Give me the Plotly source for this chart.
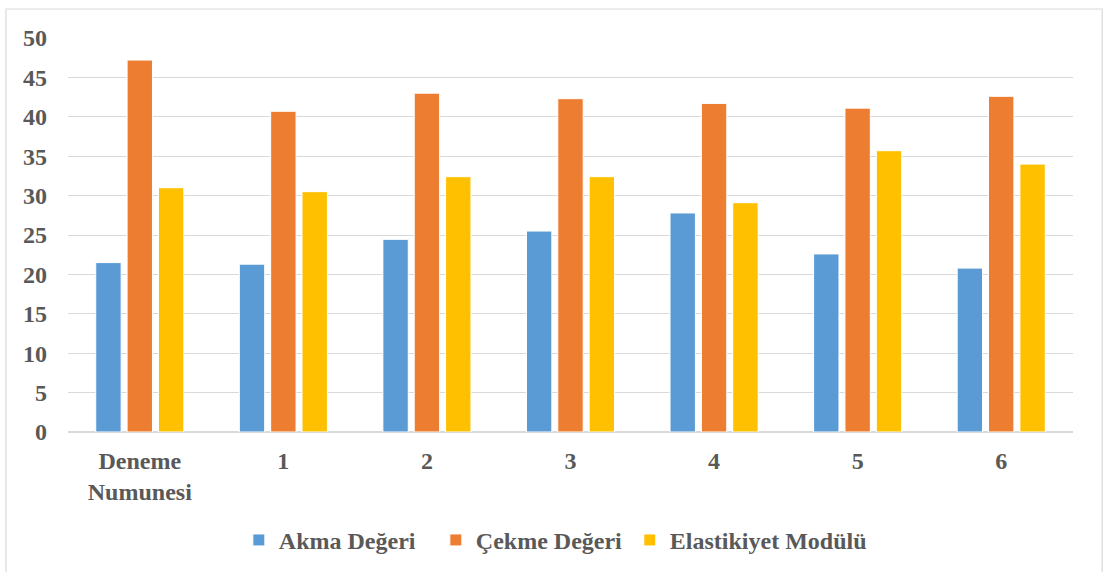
import plotly.graph_objects as go

categories = ["Deneme<br>Numunesi", "1", "2", "3", "4", "5", "6"]
akma = [21.5, 21.3, 24.45, 25.5, 27.8, 22.6, 20.8]
cekme = [47.2, 40.7, 43.0, 42.3, 41.7, 41.1, 42.6]
elastikiyet = [31.0, 30.5, 32.4, 32.4, 29.1, 35.7, 34.0]
series_names = ["Akma Değeri", "Çekme Değeri", "Elastikiyet Modülü"]
colors = ["#5B9BD5", "#ED7D31", "#FFC000"]
legend_ids = ["legend", "legend", "legend2"]
y_ticks = [0, 5, 10, 15, 20, 25, 30, 35, 40, 45, 50]

font_family = "'Liberation Serif', 'Times New Roman', Times, serif"
txt_color = "#595959"
fsize = 24

fig = go.Figure()
for name, vals, col, lg in zip(series_names, [akma, cekme, elastikiyet], colors, legend_ids):
    fig.add_trace(go.Bar(
        x=categories, y=vals, name=name, legend=lg,
        marker=dict(color=col, line=dict(color="white", width=1)),
    ))

legend_font = dict(family=font_family, color=txt_color, size=fsize, weight="bold")

fig.update_layout(
    width=1103, height=572,
    margin=dict(l=68, r=30, t=38, b=140, autoexpand=False),
    paper_bgcolor="white", plot_bgcolor="white",
    barmode="group", bargap=0.345, bargroupgap=0.19,
    font=dict(family=font_family, color=txt_color, size=fsize),
    showlegend=True,
    legend=dict(
        orientation="h", x=0.170, xanchor="left", y=-0.275, yanchor="middle",
        font=legend_font, itemwidth=30, tracegroupgap=0, entrywidth=152,
    ),
    legend2=dict(
        orientation="h", x=0.559, xanchor="left", y=-0.275, yanchor="middle",
        font=legend_font, itemwidth=30, tracegroupgap=0,
    ),
    xaxis=dict(
        showgrid=False, showline=False, ticks="", ticklabelstandoff=12,
        automargin=False,
        tickfont=dict(family=font_family, color=txt_color, size=fsize, weight="bold"),
    ),
    yaxis=dict(
        range=[0, 50], tickvals=y_ticks, showgrid=True, automargin=False,
        gridcolor="#D9D9D9", gridwidth=1.2, zeroline=True,
        zerolinecolor="#D9D9D9", zerolinewidth=1.5, showline=False,
        ticks="", ticklabelstandoff=20,
        tickfont=dict(family=font_family, color=txt_color, size=fsize, weight="bold"),
    ),
    shapes=[dict(
        type="rect", xref="paper", yref="paper",
        x0=-0.0617, x1=1.029, y0=-0.6, y1=1.0736,
        line=dict(color="#D9D9D9", width=1.2), fillcolor="rgba(0,0,0,0)",
        layer="below",
    )],
)

fig.write_html("out.html", config={"displayModeBar": False},
               post_script="document.body.style.margin='0';")
